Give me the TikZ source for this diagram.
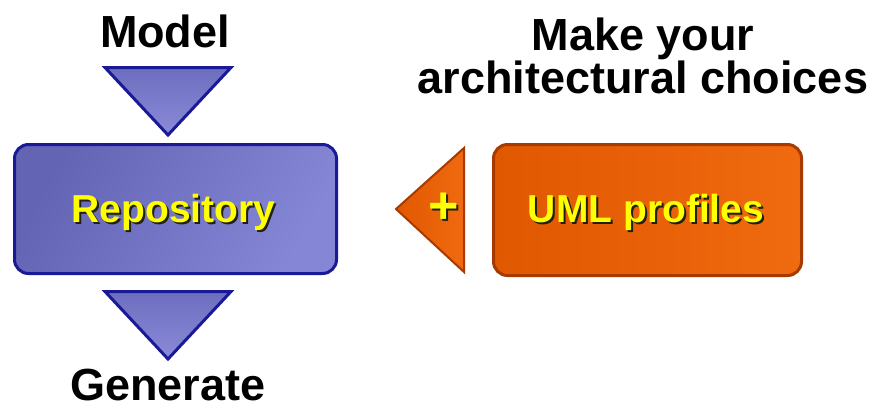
\documentclass[tikz,border=0pt]{standalone}
\usepackage{fontspec}
\setmainfont{Liberation Sans}
\definecolor{navy}{HTML}{1A1A96}
\definecolor{repoA}{HTML}{6464B4}
\definecolor{repoB}{HTML}{8686D6}
\definecolor{triA}{HTML}{6E6EC0}
\definecolor{triB}{HTML}{8A8AD8}
\definecolor{orgFill}{HTML}{E05800}
\definecolor{orgFillB}{HTML}{F06A10}
\definecolor{orgLine}{HTML}{A83A00}
\definecolor{txtYel}{HTML}{FFFF00}
\definecolor{txtShad}{HTML}{202010}
\newcommand{\shadowtext}[1]{\makebox[0pt][l]{\hspace{2pt}\raisebox{-2pt}{\textcolor{txtShad}{#1}}}#1}
\begin{document}
\begin{tikzpicture}[x=1pt,y=-1pt,
  title/.style={font=\fontsize{45}{45}\selectfont\bfseries, text=black, inner sep=0pt, anchor=base},
  boxtext/.style={font=\fontsize{39}{39}\selectfont\bfseries, text=txtYel, inner sep=0pt, anchor=base},
  repobox/.style={draw=navy, line width=3pt, rounded corners=14pt, minimum width=322pt, minimum height=129pt, inner sep=0pt, left color=repoA, right color=repoB, shading angle=60},
  umlbox/.style={draw=orgLine, line width=3pt, rounded corners=14pt, minimum width=308pt, minimum height=131pt, inner sep=0pt, left color=orgFill, right color=orgFillB},
  tri/.style={draw=navy, line width=3pt, line join=miter, top color=triA, bottom color=triB},
  otri/.style={draw=orgLine, line width=2pt, line join=miter, left color=orgFill, right color=orgFillB}
]
\useasboundingbox (0,0) rectangle (876,408);
% titles
\node[title] (model) at (165,47) {Model};
\node[title] (make) at (643,50) {Make your};
\node[title] (arch) at (643,93) {architectural choices};
\node[title] (gen) at (168,400) {Generate};
% repository
\node[repobox] (repo) at (175.5,209) {};
\node[boxtext] (repotxt) at (173.5,222) {\shadowtext{Repository}};
% arrows (triangles)
\coordinate (t1l) at (105,67.5);
\coordinate (t1r) at (231,67.5);
\coordinate (t1a) at (168,135);
\draw[tri] (t1l) -- (t1r) -- (t1a) -- cycle;
\coordinate (t2l) at (105,291.5);
\coordinate (t2r) at (231,291.5);
\coordinate (t2a) at (168,359);
\draw[tri] (t2l) -- (t2r) -- (t2a) -- cycle;
% UML profiles
\node[umlbox] (uml) at (647.5,210) {};
\node[boxtext] (umltxt) at (646,222) {\shadowtext{UML profiles}};
% orange plus arrow
\coordinate (o1) at (464,148);
\coordinate (o2) at (464,272);
\coordinate (o3) at (396,209);
\draw[otri] (o1) -- (o2) -- (o3) -- cycle;
\node[font=\fontsize{52}{52}\selectfont\bfseries, text=txtYel, inner sep=0pt] (plus) at (444,209) {\shadowtext{+}};
\end{tikzpicture}
\end{document}
